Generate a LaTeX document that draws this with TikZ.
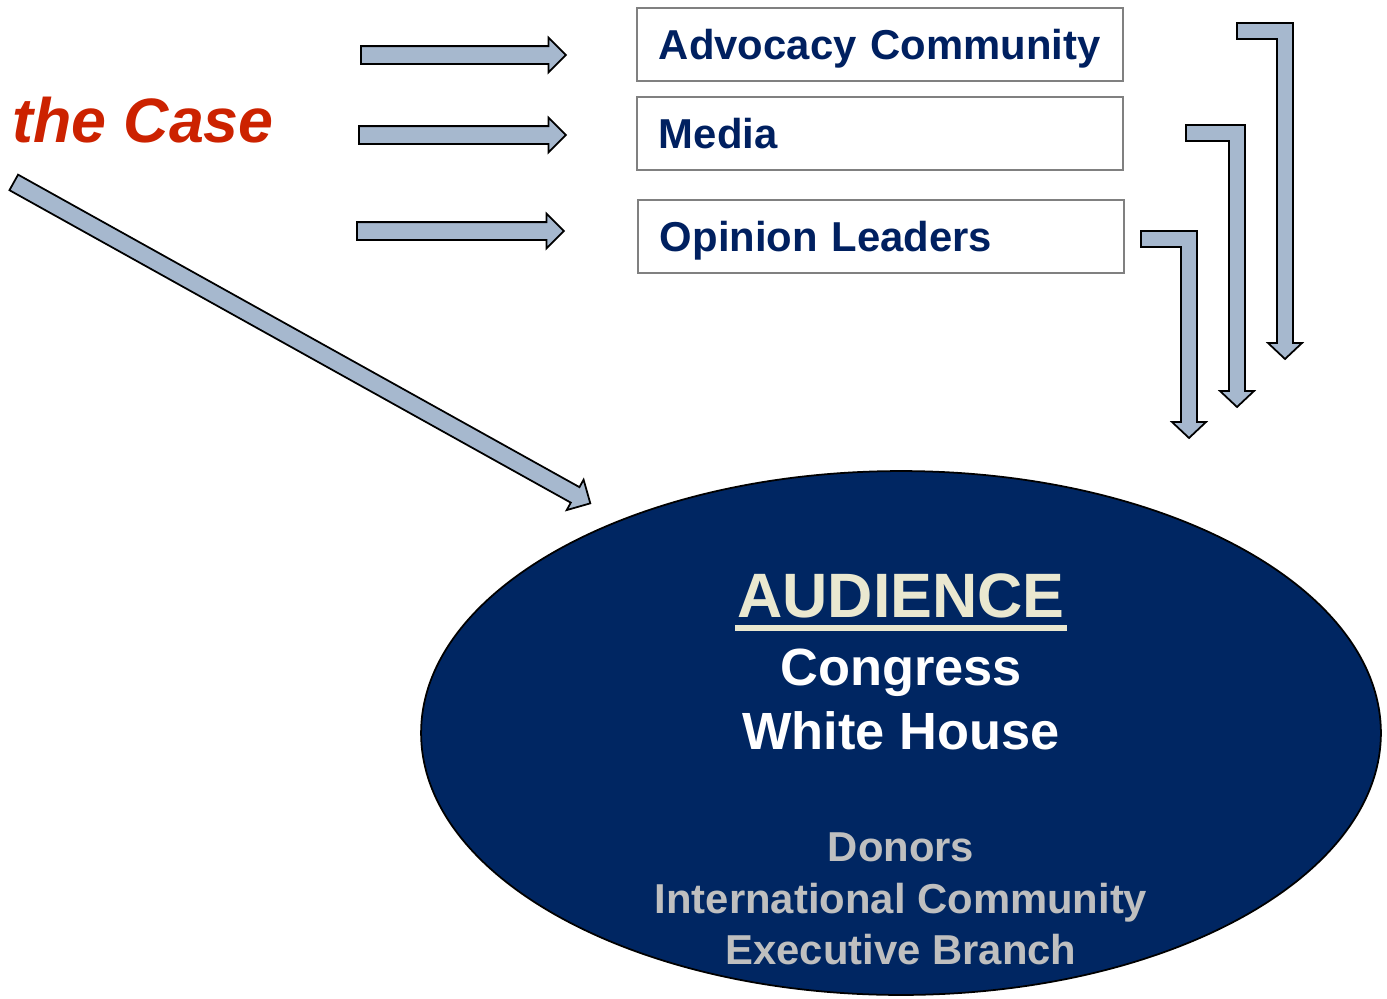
\documentclass[tikz,border=0pt]{standalone}
\usepackage{fontspec}
\setmainfont{Liberation Sans}
\usepackage{tikz}
\usetikzlibrary{shapes.geometric,shapes.arrows}

\definecolor{navy}{RGB}{0,38,98}
\definecolor{boxtext}{RGB}{0,32,96}
\definecolor{casered}{RGB}{204,34,0}
\definecolor{cream}{RGB}{234,232,208}
\definecolor{lowgray}{RGB}{191,191,191}
\definecolor{steel}{RGB}{166,184,206}

\tikzset{
	groupbox/.style={draw=gray, line width=1.1pt, anchor=north west,
		minimum width=9.72cm, minimum height=1.46cm, text width=8.84cm,
		inner xsep=0.44cm, inner ysep=0pt, align=left,
		text height=0.6cm, text depth=0pt, text=boxtext,
		font=\bfseries\fontsize{23.8pt}{28pt}\selectfont},
	blockarrow/.style={single arrow, draw=black, fill=steel, line width=1pt,
		single arrow head extend=0.17cm,
		inner xsep=0pt, inner ysep=0.16cm, anchor=tail},
	bentarrow/.style={draw=black, fill=steel, line width=1pt, line join=miter},
	bigline/.style={anchor=base, inner sep=0pt, text=white,
		font=\bfseries\fontsize{29.8pt}{34pt}\selectfont},
	smallline/.style={anchor=base, inner sep=0pt, text=lowgray,
		font=\bfseries\fontsize{23.8pt}{28pt}\selectfont}
}

\begin{document}
\begin{tikzpicture}[x=0.02cm,y=-0.02cm]
		\useasboundingbox (0,0) rectangle (1387,998);
		
		% the three groups
		\node[groupbox] (advocacy) at (636,7) {Advocacy Community};
		\node[groupbox] (media) at (636,96) {Media};
		\node[groupbox] (opinion) at (637,199) {Opinion Leaders};
		
		% arrows into the groups
		\node[blockarrow, minimum height=4.1cm] (toAdvocacy) at (360,55) {};
		\node[blockarrow, minimum height=4.14cm] (toMedia) at (358,135) {};
		\node[blockarrow, minimum height=4.14cm] (toOpinion) at (356,231) {};
		
		% bent arrows down to the audience
		\foreach \l/\r/\t/\p in {1237/1293/23/359, 1186/1245/125/407, 1141/1197/231/438}
		\draw[bentarrow] (\l,\t) -- (\r,\t) -- (\r,\p-16) -- (\r+9,\p-16) -- (\r-8,\p)
			-- (\r-25,\p-16) -- (\r-16,\p-16) -- (\r-16,\t+16) -- (\l,\t+16) -- cycle;
		
		\node[anchor=base west, inner sep=0pt, text=casered,
			font=\bfseries\itshape\fontsize{35.7pt}{40pt}\selectfont] (theCase) at (12,142) {the Case};
		
		% straight to the audience
		\node[blockarrow, minimum height=13.2cm, rotate=-29.1] (toAudience) at (13,182) {};
		
		\node[ellipse, draw=black, line width=1pt, fill=navy, minimum width=19.2cm,
			minimum height=10.48cm, inner sep=0pt] (audience) at (901,733) {};
		
		\node[anchor=base, inner sep=0pt, text=cream,
			font=\bfseries\fontsize{35.7pt}{40pt}\selectfont] (audTitle) at (901,617) {AUDIENCE};
		\draw[cream, line width=0.12cm] ([shift={(-2,11)}]audTitle.base west) -- ([shift={(2,11)}]audTitle.base east);
		
		\node[bigline] (congress) at (901,685) {Congress};
		\node[bigline] (whiteHouse) at (901,749) {White House};
		
		\node[smallline] (donors) at (901,861) {Donors};
		\node[smallline] (intlComm) at (901,913) {International Community};
		\node[smallline] (execBranch) at (901,964) {Executive Branch};
\end{tikzpicture}
\end{document}
